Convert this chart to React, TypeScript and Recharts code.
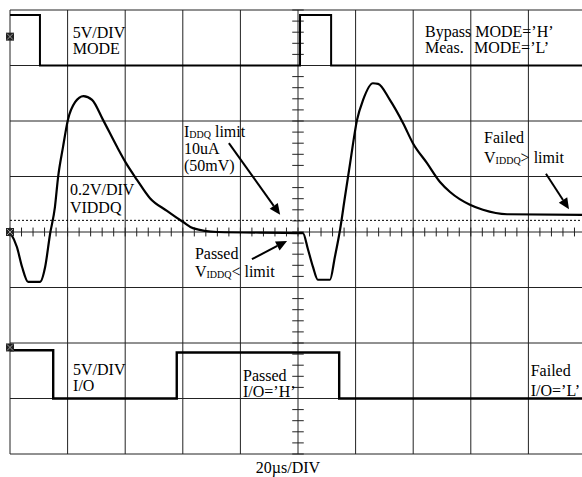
import { ComposedChart, Line, XAxis, YAxis, CartesianGrid, ReferenceLine, ReferenceDot } from "recharts";

// time in us (20us/DIV), level in screen divisions (0 = centre line)
const timeTicks = [0, 20, 40, 60, 80, 100, 120, 140, 160, 180, 200];
const divTicks = [-4, -3, -2, -1, 0, 1, 2, 3, 4];

const modeTrace = [
  { t: 0, v: 3.91 }, { t: 10.4, v: 3.91 }, { t: 10.4, v: 3.0 }, { t: 100.7, v: 3.0 },
  { t: 100.7, v: 3.91 }, { t: 111.5, v: 3.91 }, { t: 111.5, v: 3.0 }, { t: 200, v: 3.0 },
];

const viddqTrace = [
  { t: 0, v: 0 }, { t: 2.4, v: -0.27 }, { t: 4.2, v: -0.63 }, { t: 6.3, v: -0.9 },
  { t: 10.4, v: -0.9 }, { t: 12.2, v: -0.63 }, { t: 13.9, v: -0.04 }, { t: 15.6, v: 0.45 },
  { t: 16.7, v: 0.99 }, { t: 18.4, v: 1.53 }, { t: 20.1, v: 2.02 }, { t: 22.6, v: 2.34 },
  { t: 25.5, v: 2.45 }, { t: 28.5, v: 2.38 }, { t: 32.3, v: 2.02 }, { t: 37.2, v: 1.53 },
  { t: 40.3, v: 1.24 }, { t: 44.1, v: 0.94 }, { t: 48.6, v: 0.61 }, { t: 54.5, v: 0.38 },
  { t: 60.1, v: 0.18 }, { t: 63.5, v: 0.07 }, { t: 71.9, v: 0 }, { t: 101.7, v: -0.02 },
  { t: 103.5, v: -0.32 }, { t: 105.2, v: -0.63 }, { t: 106.9, v: -0.86 }, { t: 111.1, v: -0.86 },
  { t: 112.8, v: -0.45 }, { t: 114.6, v: 0.04 }, { t: 116.3, v: 0.63 }, { t: 118.1, v: 1.24 },
  { t: 120.5, v: 2.02 }, { t: 122.6, v: 2.38 }, { t: 126.0, v: 2.68 }, { t: 127.8, v: 2.67 },
  { t: 131.9, v: 2.38 }, { t: 136.5, v: 1.96 }, { t: 139.9, v: 1.6 }, { t: 144.8, v: 1.24 },
  { t: 149.3, v: 0.9 }, { t: 152.8, v: 0.72 }, { t: 159.7, v: 0.49 }, { t: 164.2, v: 0.4 },
  { t: 172.6, v: 0.32 }, { t: 200, v: 0.31 },
];

const ioTrace = [
  { t: 0, v: -2.13 }, { t: 15.0, v: -2.13 }, { t: 15.0, v: -3.0 }, { t: 57.9, v: -3.0 },
  { t: 57.9, v: -2.17 }, { t: 114.3, v: -2.17 }, { t: 114.3, v: -3.0 }, { t: 200, v: -3.0 },
];

const limitLevel = 0.21;
const groundMarkers = [3.52, 0, -2.08];

const arrows = [
  { from: [76.0, 1.6], to: [93.8, 0.31] },
  { from: [84.0, -0.49], to: [96.2, -0.16] },
  { from: [186.1, 1.05], to: [194.1, 0.41] },
];

const font = "'Liberation Serif', 'Times New Roman', serif";

// minor ticks on the centre cross
const hTicks = Array.from({ length: 51 }, (_, i) => i * 4);
const vTicks = Array.from({ length: 41 }, (_, i) => -4 + i * 0.2);

const Sub = ({ s }: { s: string }) => (
  <tspan fontSize={10} dy={1}>{s}</tspan>
);

const notes = [
  { t: 21.8, v: 3.49, gap: 16, lines: [["5V/DIV"], ["MODE"]] },
  { t: 60.4, v: 1.71, gap: 17, lines: [["I", { sub: "DDQ" }, " limit"], ["10uA"], ["(50mV)"]] },
  { t: 20.8, v: 0.67, gap: 18, lines: [["0.2V/DIV"], ["VIDDQ"]] },
  { t: 64.2, v: -0.49, gap: 18, lines: [["Passed"], ["V", { sub: "IDDQ" }, "< limit"]] },
  { t: 164.6, v: 1.6, gap: 20, lines: [["Failed"], ["V", { sub: "IDDQ" }, "> limit"]] },
  { t: 21.9, v: -2.58, gap: 16, lines: [["5V/DIV"], ["I/O"]] },
  { t: 80.9, v: -2.68, gap: 16, lines: [["Passed"], ["I/O=’H’"]] },
  { t: 180.8, v: -2.59, gap: 20, lines: [["Failed"], ["I/O=’L’"]] },
];

const NoteShape = ({ cx, cy, gap, lines }: any) => (
  <text x={cx} y={cy} fontFamily={font} fontSize={16} fill="#000">
    {lines.map((ln: any[], i: number) => (
      <tspan key={i} x={cx} y={cy + i * gap}>
        {ln.map((p: any, j: number) => (typeof p === "string" ? <tspan key={j} dy={j > 0 && typeof ln[j - 1] !== "string" ? -1 : 0}>{p}</tspan> : <Sub key={j} s={p.sub} />))}
      </tspan>
    ))}
  </text>
);

const ModeNote = ({ cx, cy }: any) => (
  <text fontFamily={font} fontSize={16} fill="#000">
    <tspan x={cx} y={cy}>Bypass MODE=’H’</tspan>
    <tspan x={cx} y={cy + 16}>Meas.</tspan>
    <tspan x={cx + 49} y={cy + 16}>MODE=’L’</tspan>
  </text>
);

const Marker = ({ cx, cy }: any) => (
  <g>
    <rect x={cx - 4} y={cy - 4} width={8} height={8} fill="#222" />
    <path d={`M${cx - 3},${cy - 3}L${cx + 3},${cy + 3}M${cx + 3},${cy - 3}L${cx - 3},${cy + 3}`} stroke="#999" strokeWidth={1} />
  </g>
);

const ArrowShape = ({ x1, y1, x2, y2 }: any) => {
  const a = Math.atan2(y2 - y1, x2 - x1);
  const L = 11, W = 5;
  const bx = x2 - L * Math.cos(a), by = y2 - L * Math.sin(a);
  const px = -Math.sin(a) * W, py = Math.cos(a) * W;
  return (
    <g>
      <line x1={x1} y1={y1} x2={bx} y2={by} stroke="#000" strokeWidth={2} />
      <polygon points={`${x2},${y2} ${bx + px},${by + py} ${bx - px},${by - py}`} fill="#000" />
    </g>
  );
};

export default function App() {
  return (
    <div style={{ position: "absolute", left: 0, top: 0, width: 582, height: 477, background: "#fff", overflow: "hidden" }}>
      <ComposedChart width={582} height={477} margin={{ top: 10, right: -4, bottom: 23, left: 10 }}>
        <XAxis dataKey="t" type="number" domain={[0, 200]} ticks={timeTicks} hide />
        <YAxis type="number" domain={[-4, 4]} ticks={divTicks} hide />
        <CartesianGrid stroke="#222" strokeWidth={1} />
        {hTicks.map((t) => (
          <ReferenceLine key={"h" + t} segment={[{ x: t, y: -0.08 }, { x: t, y: 0.08 }]} stroke="#222" />
        ))}
        {vTicks.map((v) => (
          <ReferenceLine key={"v" + v} segment={[{ x: 98.0, y: v }, { x: 102.0, y: v }]} stroke="#222" />
        ))}
        <ReferenceLine y={limitLevel} stroke="#000" strokeDasharray="2 2" />
        <Line data={modeTrace} dataKey="v" type="linear" stroke="#000" strokeWidth={2} dot={false} isAnimationActive={false} />
        <Line data={viddqTrace} dataKey="v" type="monotone" stroke="#000" strokeWidth={2.2} dot={false} isAnimationActive={false} />
        <Line data={ioTrace} dataKey="v" type="linear" stroke="#000" strokeWidth={2.4} dot={false} isAnimationActive={false} />
        {groundMarkers.map((v) => (
          <ReferenceDot key={"g" + v} x={0} y={v} r={0} shape={(p: any) => <Marker {...p} />} />
        ))}
        {arrows.map((a, i) => (
          <ReferenceLine key={"a" + i} segment={[{ x: a.from[0], y: a.from[1] }, { x: a.to[0], y: a.to[1] }]} shape={(p: any) => <ArrowShape {...p} />} />
        ))}
        {notes.map((n, i) => (
          <ReferenceDot key={"n" + i} x={n.t} y={n.v} r={0} shape={(p: any) => <NoteShape {...p} gap={n.gap} lines={n.lines} />} />
        ))}
        <ReferenceDot x={144.1} y={3.52} r={0} shape={(p: any) => <ModeNote {...p} />} />
        <ReferenceDot x={96.5} y={-4} r={0} shape={(p: any) => (
          <text x={p.cx} y={p.cy + 19} textAnchor="middle" fontFamily={font} fontSize={16} fill="#000">20µs/DIV</text>
        )} />
      </ComposedChart>
    </div>
  );
}
